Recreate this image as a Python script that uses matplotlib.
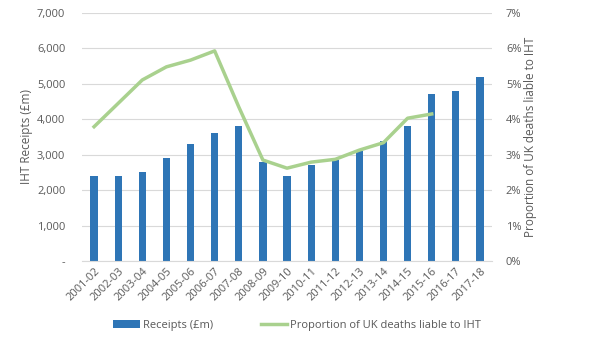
import matplotlib
matplotlib.use("Agg")
import matplotlib.pyplot as plt
import numpy as np
from matplotlib.ticker import FuncFormatter

years = ["2001-02","2002-03","2003-04","2004-05","2005-06","2006-07","2007-08","2008-09",
         "2009-10","2010-11","2011-12","2012-13","2013-14","2014-15","2015-16","2016-17","2017-18"]
receipts = [2400, 2400, 2500, 2900, 3300, 3600, 3800, 2800, 2400, 2700, 2850, 3100, 3400, 3800, 4700, 4800, 5200]
proportion = [3.79, 4.45, 5.11, 5.48, 5.67, 5.93, 4.35, 2.85, 2.62, 2.79, 2.87, 3.13, 3.34, 4.03, 4.15]

plt.rcParams['font.family'] = ['Open Sans', 'DejaVu Sans']
txt = '#595959'

fig = plt.figure(figsize=(5.97, 3.37), dpi=100)
ax = fig.add_axes([82/597, 1-261/337, 410/597, 248/337])
ax2 = ax.twinx()

x = np.arange(len(years))
ax.bar(x, receipts, width=0.3, color='#2E75B6', label='Receipts (£m)', zorder=2)
ax2.plot(x[:len(proportion)], proportion, color='#A9D18E', lw=2.5, label='Proportion of UK deaths liable to IHT', zorder=3)

ax.set_xlim(-0.5, len(years)-0.5)
ax.set_ylim(0, 7000)
ax2.set_ylim(0, 7)
ax.set_yticks(range(0, 7001, 1000))
ax.yaxis.set_major_formatter(FuncFormatter(lambda v, p: '-' if v == 0 else f'{int(v):,}'))
ax2.set_yticks(range(0, 8))
ax2.yaxis.set_major_formatter(FuncFormatter(lambda v, p: f'{int(v)}%'))
ax.grid(axis='y', color='#D9D9D9', lw=0.8, zorder=0)
ax.set_axisbelow(True)
for a in (ax, ax2):
    for s in a.spines.values():
        s.set_visible(False)
    a.tick_params(length=0, colors=txt, labelsize=8)
ax.spines['bottom'].set_visible(True)
ax.spines['bottom'].set_color('#D9D9D9')
ax.set_xticks(x)
ax.set_xticklabels(years, rotation=45, ha='right', rotation_mode='anchor', fontsize=8, color=txt)
ax.tick_params(axis='y', pad=12)
ax2.tick_params(axis='y', pad=10)
ax.set_ylabel('IHT Receipts (£m)', color=txt, fontsize=8.5, labelpad=3)
ax2.set_ylabel('Proportion of UK deaths liable to IHT', color=txt, fontsize=8.5, labelpad=2)

h1, l1 = ax.get_legend_handles_labels()
h2, l2 = ax2.get_legend_handles_labels()
fig.legend(h1 + h2, l1 + l2, loc='center', bbox_to_anchor=(297/597, 0.035), ncol=2, frameon=False,
           fontsize=8, labelcolor=txt, handlelength=2.4, handletextpad=0.25, columnspacing=4.3)

fig.savefig('out.png', dpi=100)
